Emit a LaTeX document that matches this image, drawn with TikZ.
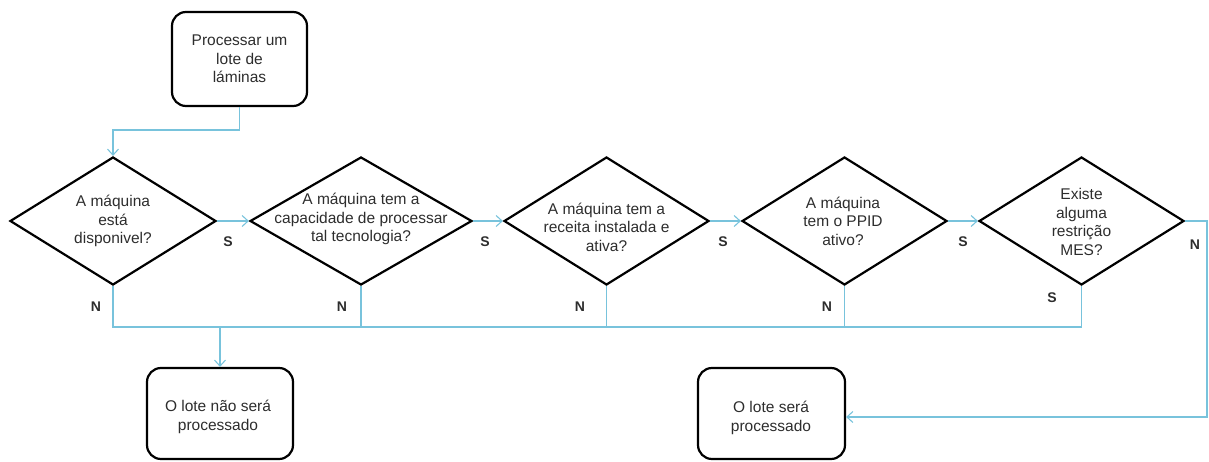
\documentclass[tikz,border=0pt]{standalone}
\usepackage{fontspec}
\setmainfont{Liberation Sans}
\usetikzlibrary{shapes.geometric,arrows.meta}
\definecolor{connc}{RGB}{120,195,220}
\definecolor{txt}{RGB}{45,45,45}
\begin{document}
\begin{tikzpicture}[x=1pt,y=-1pt,
 box/.style={draw=black,line width=2.2pt,rounded corners=14pt,inner sep=0pt,rectangle},
 dec/.style={draw=black,line width=2.2pt,diamond,inner sep=0pt,minimum height=128pt},
 lbl/.style={text=txt,font=\fontsize{15.5}{18.5}\selectfont,align=center,inner sep=0pt},
 yn/.style={text=txt,font=\fontsize{14}{14}\selectfont\bfseries,inner sep=0pt},
 conn/.style={draw=connc,line width=1.1pt},
 arr/.style={conn,-{Straight Barb[length=6pt,width=11pt,line width=1.1pt]}}
]
\useasboundingbox (0,0) rectangle (1209,462);

% boxes
\node[box,minimum width=135pt,minimum height=94pt] (start) at (239.5,59) {};
\node[lbl] (tstart) at (start.center) {Processar um\\lote de\\láminas};
\node[box,minimum width=146pt,minimum height=91pt] (nao) at (220,413.5) {};
\node[lbl] (tnao) at (218,417) {O lote não será\\processado};
\node[box,minimum width=147pt,minimum height=91pt] (sim) at (771.5,413.5) {};
\node[lbl] (tsim) at (771,418) {O lote será\\processado};

% decisions
\node[dec,minimum width=206pt] (d1) at (113,221) {};
\node[dec,minimum width=222pt] (d2) at (361,221) {};
\node[dec,minimum width=205pt] (d3) at (606.5,221) {};
\node[dec,minimum width=205pt] (d4) at (844.5,221) {};
\node[dec,minimum width=205pt] (d5) at (1081.5,221) {};

\node[lbl] (t1) at (113,221) {A máquina\\está\\disponivel?};
\node[lbl] (t2) at (361,219) {A máquina tem a\\capacidade de processar\\tal tecnologia?};
\node[lbl] (t3) at (606.5,227) {A máquina tem a\\receita instalada e\\ativa?};
\node[lbl] (t4) at (843,221) {A máquina\\tem o PPID\\ativo?};
\node[lbl] (t5) at (1081.5,222) {Existe\\alguma\\restrição\\MES?};

% labels
\node[yn] (s1) at (228,242) {S};
\node[yn] (s2) at (485,242) {S};
\node[yn] (s3) at (723,242) {S};
\node[yn] (s4) at (963,242) {S};
\node[yn] (n1) at (96,307) {N};
\node[yn] (n2) at (342,307) {N};
\node[yn] (n3) at (580,307) {N};
\node[yn] (n4) at (827,307) {N};
\node[yn] (s5) at (1052,298) {S};
\node[yn] (n5) at (1195,245) {N};

% connectors
\coordinate (k1) at (0,130);
\coordinate (bus) at (0,327);
\coordinate (rc) at (1207,417);
\draw[arr] (start.south) -- (start.south |- k1) -- (d1.north |- k1) -- (d1.north);
\draw[arr] (d1.east) -- (d2.west);
\draw[arr] (d2.east) -- (d3.west);
\draw[arr] (d3.east) -- (d4.west);
\draw[arr] (d4.east) -- (d5.west);
\draw[conn] (d1.south) -- (d1.south |- bus) -- (d5.south |- bus) -- (d5.south);
\draw[conn] (d2.south) -- (d2.south |- bus);
\draw[conn] (d3.south) -- (d3.south |- bus);
\draw[conn] (d4.south) -- (d4.south |- bus);
\draw[arr] (nao.north |- bus) -- (nao.north);
\draw[arr] (d5.east) -| (rc) -- (sim.east |- rc);
\end{tikzpicture}
\end{document}
